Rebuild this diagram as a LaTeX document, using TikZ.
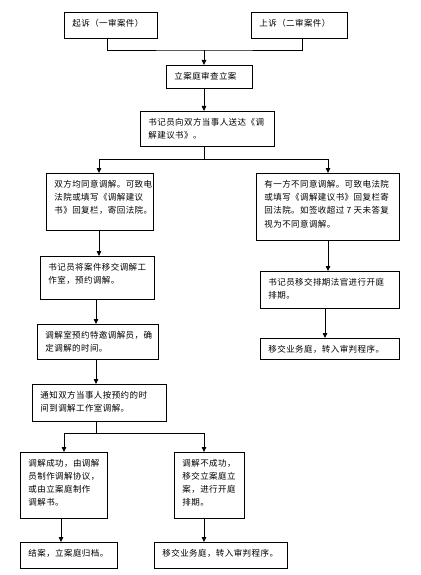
\documentclass[tikz,border=0pt]{standalone}
\usepackage{fontspec}
\newfontfamily\cjk[LetterSpace=5]{Noto Sans CJK SC}
\usetikzlibrary{arrows.meta}
\tikzset{
  boxst/.style={draw=black, line width=0.8pt, fill=white, inner sep=0pt, anchor=north west},
  conn/.style={draw=black, line width=0.8pt},
  arr/.style={conn, -{Triangle[length=5pt,width=4.5pt]}}
}
\newcommand\flowbox[6]{%
  \node[boxst] (#1) at (#2,#3) {\parbox[c][#5pt][t]{#4pt}{\cjk\fontsize{8.5}{13.3}\selectfont\vspace*{6.5pt}\leftskip=8pt\relax #6}};%
}
\begin{document}
\begin{tikzpicture}[x=1pt,y=-1pt]
\fill[white] (0,0) rectangle (420,575);
\useasboundingbox (0,0) rectangle (420,575);

\flowbox{A}{64}{12}{93}{26}{起诉（一审案件）}
\flowbox{B}{251}{12}{96}{26}{上诉（二审案件）}
\flowbox{C}{166}{65}{86}{23}{立案庭审查立案}
\flowbox{D}{140}{111}{134}{35}{书记员向双方当事人送达《调\\解建议书》。}
\flowbox{E}{46}{173}{107}{57}{双方均同意调解。可致电\\法院或填写《调解建议\\书》回复栏，寄回法院。}
\flowbox{F}{256}{173}{143}{67}{有一方不同意调解。可致电法院\\或填写《调解建议书》回复栏寄\\回法院。如签收超过 7 天未答复\\视为不同意调解。}
\flowbox{G}{40}{256}{114}{43}{书记员将案件移交调解工\\作室，预约调解。}
\flowbox{H}{260}{271}{139}{37}{书记员移交排期法官进行开庭\\排期。}
\flowbox{I}{37}{324}{121}{35}{调解室预约特邀调解员，确\\定调解的时间。}
\flowbox{J}{260}{338}{139}{21}{移交业务庭，转入审判程序。}
\flowbox{K}{32}{384}{134}{37}{通知双方当事人按预约的时\\间到调解工作室调解。}
\flowbox{L}{20}{452}{87}{66}{调解成功，由调解\\员制作调解协议，\\或由立案庭制作\\调解书。}
\flowbox{M}{174}{452}{70}{66}{调解不成功，\\移交立案庭立\\案，进行开庭\\排期。}
\flowbox{N}{20}{542}{97}{26}{结案，立案庭归档。}
\flowbox{O}{154}{542}{133}{26}{移交业务庭，转入审判程序。}

% junction coordinates
\coordinate (j1) at (204,50);
\coordinate (j2) at (204,159);
\coordinate (j3) at (96,433);

% A,B -> C
\draw[conn] (A.south -| 107,0) |- (j1) -| (B.south -| 302,0);
\draw[arr] (j1) -- (j1 |- C.north);
% C -> D
\draw[arr] (C.south -| 204,0) -- (D.north -| 204,0);
% D -> E, F
\draw[conn] (D.south -| 204,0) -- (j2);
\draw[arr] (j2) -| (E.north -| 99,0);
\draw[arr] (j2) -| (F.north -| 328,0);
% left column
\draw[arr] (E.south -| 99,0) -- (G.north -| 99,0);
\draw[arr] (G.south -| 96,0) -- (I.north -| 96,0);
\draw[arr] (I.south -| 96,0) -- (K.north -| 96,0);
% right column
\draw[arr] (F.south -| 328,0) -- (H.north -| 328,0);
\draw[arr] (H.south -| 325,0) -- (J.north -| 325,0);
% K -> L, M
\draw[conn] (K.south -| 96,0) -- (j3);
\draw[arr] (j3) -| (L.north -| 64,0);
\draw[arr] (j3) -| (M.north -| 204,0);
% bottom
\draw[arr] (L.south -| 61,0) -- (N.north -| 61,0);
\draw[arr] (M.south -| 204,0) -- (O.north -| 204,0);
\end{tikzpicture}
\end{document}
